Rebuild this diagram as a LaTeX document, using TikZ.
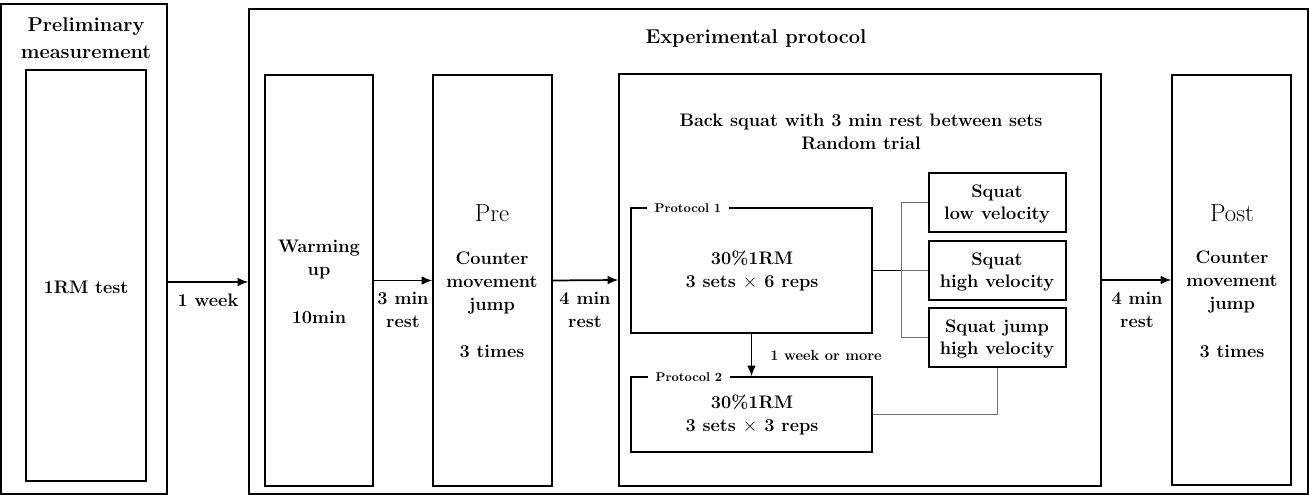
\documentclass[tikz,border=0pt]{standalone}
\usetikzlibrary{arrows.meta,fit}
\begin{document}
\begin{tikzpicture}[x=0.75pt,y=-0.75pt,
  box/.style={draw=black,line width=1pt,inner sep=0pt,fit={#1}},
  txt/.style={font=\fontsize{13.6}{17.2}\selectfont\bfseries,align=center,inner sep=0pt},
  big/.style={font=\fontsize{18.5}{22}\selectfont,align=center,inner sep=0pt},
  ttl/.style={font=\fontsize{15}{20}\selectfont\bfseries,align=center,inner sep=0pt},
  small/.style={font=\fontsize{9.5}{11}\selectfont\bfseries,fill=white,inner xsep=6pt,inner ysep=1pt},
  arr/.style={line width=1.3pt,-{Latex[length=8pt,width=6.5pt]}},
  link/.style={draw=black!55,line width=0.7pt}]
\useasboundingbox (0,0) rectangle (1309,495);
% preliminary
\node[box={(1,4) (167,494)}] (prelim) {};
\node[ttl] (prelimT) at (86,38) {Preliminary\\measurement};
\node[box={(26,70) (146,481)}] (rm) {};
\node[txt] (rmT) at (86,287) {1RM test};
% experimental
\node[box={(249,9) (1308,494)}] (exp) {};
\node[ttl] (expT) at (756,39) {Experimental protocol};
\node[box={(265,75) (373,486)}] (warm) {};
\node[txt] (warmT) at (319,260) {Warming\\up};
\node[txt] (warmM) at (319,317) {10min};
\node[box={(433,75) (552,486)}] (pre) {};
\node[big] (preT) at (492,213) {Pre};
\node[txt] (preC) at (492,283) {Counter\\movement\\jump};
\node[txt] (preN) at (492,351) {3 times};
\node[box={(619,74) (1101,486)}] (mid) {};
\node[txt] (midT) at (861,132) {Back squat with 3 min rest between sets\\Random trial};
\node[box={(631,208) (872,333)}] (p1) {};
\node[small] (p1L) at (688,208) {Protocol 1};
\node[txt] (p1T) at (752,271) {30\%1RM\\3 sets $\times$ 6 reps};
\node[box={(631,377) (872,452)}] (p2) {};
\node[small] (p2L) at (689,377) {Protocol 2};
\node[txt] (p2T) at (752,415) {30\%1RM\\3 sets $\times$ 3 reps};
\node[box={(929,173) (1066,232)}] (s1) {};
\node[txt] (s1T) at (997,204) {Squat\\low velocity};
\node[box={(929,241) (1066,300)}] (s2) {};
\node[txt] (s2T) at (997,272) {Squat\\high velocity};
\node[box={(929,308) (1066,367)}] (s3) {};
\node[txt] (s3T) at (997,339) {Squat jump\\high velocity};
\node[box={(1172,75) (1291,485)}] (post) {};
\node[big] (postT) at (1232,213) {Post};
\node[txt] (postC) at (1232,282) {Counter\\movement\\jump};
\node[txt] (postN) at (1232,351) {3 times};
% connectors
\coordinate (j) at (901,270.5);
\draw[arr] (prelim.east |- 0,282) -- (exp.west |- 0,282);
\node[txt] (l1) at (208,300) {1 week};
\draw[arr] (warm.east) -- (pre.west);
\node[txt] (l2) at (403,310) {3 min\\rest};
\draw[arr] (pre.east) -- (mid.west);
\node[txt] (l3) at (585,310) {4 min\\rest};
\draw[arr] (mid.east) -- (post.west);
\node[txt] (l4) at (1137,310) {4 min\\rest};
\draw[line width=1pt] (p1.east) -- (j);
\draw[link] (s1.west) -| (j) |- (s3.west);
\draw[link] (j) -- (s2.west);
\draw[link] (p2.east) -| (s3.south);
\draw[arr] (p1.south) -- (p2.north);
\node[font=\fontsize{11}{13}\selectfont\bfseries,inner sep=0pt] (l5) at (826,355) {1 week or more};
\end{tikzpicture}
\end{document}
